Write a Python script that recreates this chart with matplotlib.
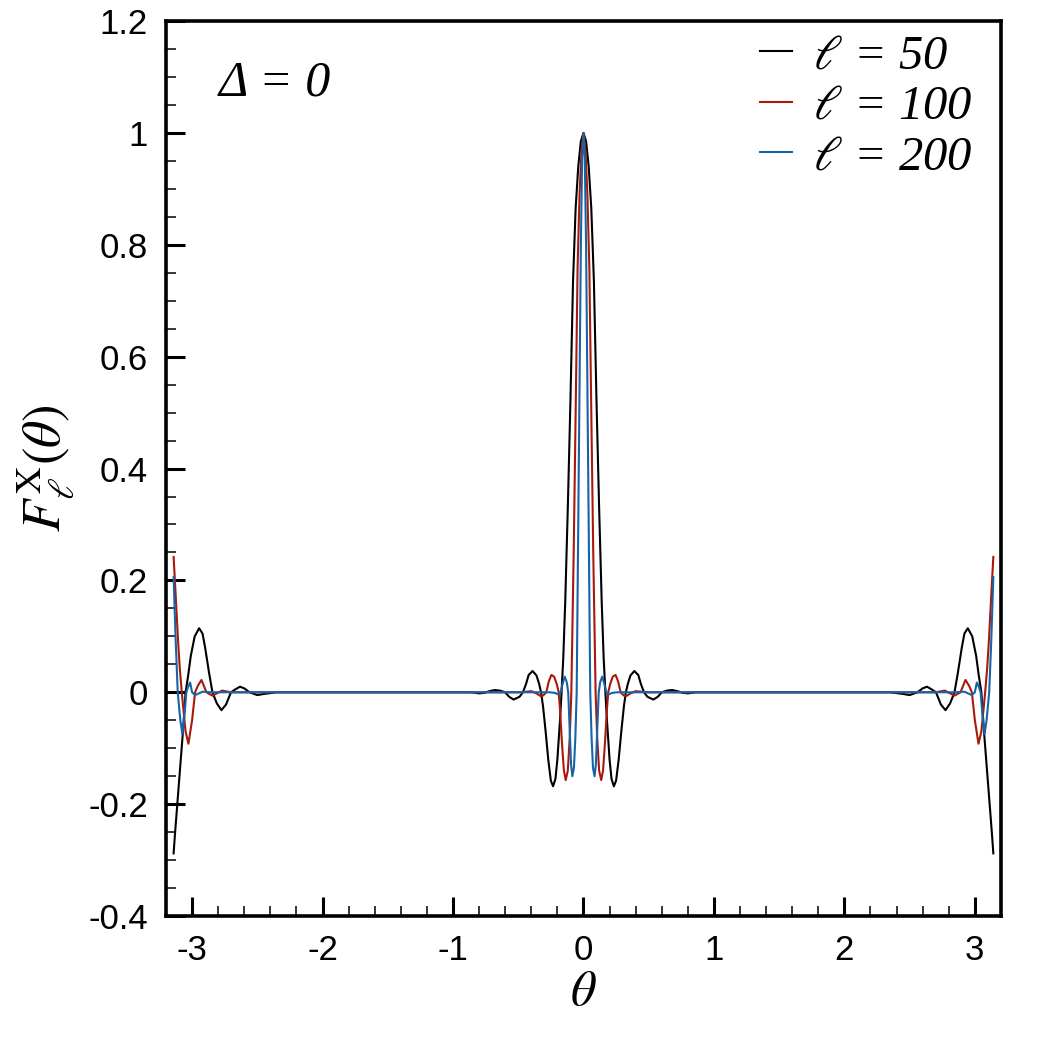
import numpy as np
import matplotlib
matplotlib.use("Agg")
import matplotlib.pyplot as plt
from matplotlib.ticker import MultipleLocator, FuncFormatter

# values (theta, F)
theta_50 = [-3.1416, -3.13, -3.115, -3.095, -3.07, -3.05, -3.03, -3.01, -2.98, -2.946, -2.92, -2.90,
            -2.87, -2.844, -2.81, -2.775, -2.74, -2.702, -2.67, -2.633, -2.60, -2.56, -2.50, -2.45,
            -2.35, -0.86, -0.80, -0.76, -0.72, -0.68, -0.64, -0.60, -0.57, -0.536, -0.49, -0.464,
            -0.44, -0.42, -0.39, -0.36, -0.34, -0.325, -0.31, -0.29, -0.27, -0.25, -0.233, -0.215,
            -0.20, -0.18, -0.168, -0.155, -0.14, -0.12, -0.10, -0.08, -0.06, -0.04, -0.02, 0.0,
            0.02, 0.04, 0.06, 0.08, 0.10, 0.12, 0.14, 0.155, 0.168, 0.18, 0.20, 0.215, 0.233,
            0.25, 0.27, 0.29, 0.31, 0.325, 0.34, 0.36, 0.39, 0.42, 0.44, 0.464, 0.49, 0.536, 0.57,
            0.60, 0.64, 0.68, 0.72, 0.76, 0.80, 0.86, 2.35, 2.45, 2.50, 2.56, 2.60, 2.633, 2.67,
            2.702, 2.74, 2.775, 2.81, 2.844, 2.87, 2.90, 2.92, 2.946, 2.98, 3.01, 3.03, 3.05, 3.07,
            3.095, 3.115, 3.13, 3.1416]
F_50 = [-0.288, -0.25, -0.205, -0.145, -0.07, 0.0, 0.03, 0.065, 0.10, 0.1145, 0.105, 0.08,
        0.035, 0.0, -0.020, -0.032, -0.022, 0.0, 0.005, 0.010, 0.007, 0.0, -0.005, -0.003,
        0.0, 0.0, -0.002, -0.001, 0.002, 0.004, 0.003, 0.0, -0.008, -0.013, -0.008, 0.0,
        0.015, 0.031, 0.038, 0.030, 0.015, 0.0, -0.025, -0.07, -0.12, -0.158, -0.168, -0.155,
        -0.12, -0.05, 0.0, 0.06, 0.16, 0.33, 0.52, 0.735, 0.865, 0.94, 0.985, 1.0,
        0.985, 0.94, 0.865, 0.735, 0.52, 0.33, 0.16, 0.06, 0.0, -0.05, -0.12, -0.155, -0.168,
        -0.158, -0.12, -0.07, -0.025, 0.0, 0.015, 0.030, 0.038, 0.031, 0.015, 0.0, -0.008, -0.013, -0.008,
        0.0, 0.003, 0.004, 0.002, -0.001, -0.002, 0.0, 0.0, -0.003, -0.005, 0.0, 0.007, 0.010, 0.005,
        0.0, -0.022, -0.032, -0.020, 0.0, 0.035, 0.08, 0.105, 0.1145, 0.10, 0.065, 0.03, 0.0, -0.07,
        -0.145, -0.205, -0.25, -0.288]

theta_100 = [-3.1416, -3.125, -3.108, -3.095, -3.079, -3.05, -3.028, -3.00, -2.977, -2.955, -2.928,
             -2.89, -2.844, -2.77, -2.70, -0.50, -0.44, -0.40, -0.36, -0.33, -0.31, -0.285, -0.265,
             -0.246, -0.225, -0.205, -0.19, -0.18, -0.165, -0.15, -0.136, -0.12, -0.105, -0.093,
             -0.075, -0.06, -0.045, -0.03, -0.015, 0.0, 0.015, 0.03, 0.045, 0.06, 0.075, 0.093,
             0.105, 0.12, 0.136, 0.15, 0.165, 0.18, 0.19, 0.205, 0.225, 0.246, 0.265, 0.285, 0.31,
             0.33, 0.36, 0.40, 0.44, 0.50, 2.70, 2.77, 2.844, 2.89, 2.928, 2.955, 2.977, 3.00,
             3.028, 3.05, 3.079, 3.095, 3.108, 3.125, 3.1416]
F_100 = [0.242, 0.17, 0.094, 0.045, 0.0, -0.07, -0.092, -0.05, 0.0, 0.012, 0.022,
         0.0, -0.006, 0.003, 0.0, 0.0, 0.001, 0.002, -0.002, -0.0066, -0.006, 0.0, 0.020,
         0.031, 0.028, 0.015, 0.0, -0.03, -0.09, -0.14, -0.157, -0.14, -0.08, 0.0,
         0.25, 0.50, 0.76, 0.89, 0.97, 1.0, 0.97, 0.89, 0.76, 0.50, 0.25, 0.0,
         -0.08, -0.14, -0.157, -0.14, -0.09, -0.03, 0.0, 0.015, 0.028, 0.031, 0.020, 0.0, -0.006,
         -0.0066, -0.002, 0.002, 0.001, 0.0, 0.0, 0.003, -0.006, 0.0, 0.022, 0.012, 0.0, -0.05,
         -0.092, -0.07, 0.0, 0.045, 0.094, 0.17, 0.242]

theta_200 = [-3.1416, -3.126, -3.11, -3.09, -3.074, -3.06, -3.044, -3.03, -3.015, -3.00, -2.977,
             -2.92, -2.85, -0.26, -0.22, -0.195, -0.175, -0.16, -0.144, -0.128, -0.117, -0.105,
             -0.095, -0.085, -0.073, -0.062, -0.052, -0.04, -0.03, -0.02, -0.01, 0.0, 0.01, 0.02,
             0.03, 0.04, 0.052, 0.062, 0.073, 0.085, 0.095, 0.105, 0.117, 0.128, 0.144, 0.16,
             0.175, 0.195, 0.22, 0.26, 2.85, 2.92, 2.977, 3.00, 3.015, 3.03, 3.044, 3.06, 3.074,
             3.09, 3.11, 3.126, 3.1416]
F_200 = [0.206, 0.094, 0.0, -0.05, -0.075, -0.045, 0.0, 0.010, 0.0173, 0.0, -0.005,
         0.001, 0.0, 0.0, -0.001, -0.0036, 0.0, 0.015, 0.028, 0.018, 0.0, -0.07,
         -0.13, -0.150, -0.135, -0.08, 0.0, 0.30, 0.55, 0.80, 0.955, 1.0, 0.955, 0.80,
         0.55, 0.30, 0.0, -0.08, -0.135, -0.150, -0.13, -0.07, 0.0, 0.018, 0.028, 0.015,
         0.0, -0.0036, -0.001, 0.0, 0.0, 0.001, -0.005, 0.0, 0.0173, 0.010, 0.0, -0.045, -0.075,
         -0.05, 0.0, 0.094, 0.206]

series = [
    (theta_50, F_50, "black", r"$\ell$ = 50"),
    (theta_100, F_100, "#a8190c", r"$\ell$ = 100"),
    (theta_200, F_200, "#1663a8", r"$\ell$ = 200"),
]

plt.rcParams["mathtext.fontset"] = "stix"
plt.rcParams["axes.unicode_minus"] = False

fig = plt.figure(figsize=(10.42, 10.42), dpi=100)
ax = fig.add_axes([0.1593, 0.1209, 0.8013, 0.8589])

for th, f, col, lab in series:
    ax.plot(th, f, color=col, lw=1.5, label=lab)

ax.set_xlim(-3.2, 3.2)
ax.set_ylim(-0.4, 1.2)
ax.xaxis.set_major_locator(MultipleLocator(1))
ax.xaxis.set_minor_locator(MultipleLocator(0.2))
ax.yaxis.set_major_locator(MultipleLocator(0.2))
ax.yaxis.set_minor_locator(MultipleLocator(0.05))
ax.yaxis.set_major_formatter(FuncFormatter(lambda v, p: f"{round(v, 2):g}"))
ax.xaxis.set_major_formatter(FuncFormatter(lambda v, p: f"{round(v, 2):g}"))

ax.tick_params(which="both", direction="in", top=False, right=False)
ax.tick_params(which="major", length=14, width=2.2, pad=13, labelsize=25)
ax.tick_params(which="minor", length=7, width=1.1)
for lbl in ax.get_xticklabels() + ax.get_yticklabels():
    lbl.set_family("Liberation Sans")
for sp in ax.spines.values():
    sp.set_linewidth(2.6)

ax.set_xlabel(r"$\theta$", fontsize=36, labelpad=0)
ax.set_ylabel(r"$F_{\ell}^{\mathrm{X}}(\theta)$", fontsize=38, labelpad=8)

ax.text(0.063, 0.93, "Δ = 0", transform=ax.transAxes, fontsize=36,
        family="Liberation Serif", style="italic", va="center", ha="left")

leg = ax.legend(loc="upper left", bbox_to_anchor=(0.711, 0.985), frameon=False,
                handlelength=0.66, handletextpad=0.43, labelspacing=0.13,
                borderpad=0, borderaxespad=0,
                prop={"family": "Liberation Serif", "style": "italic", "size": 35})

fig.savefig("out.png", dpi=100)
